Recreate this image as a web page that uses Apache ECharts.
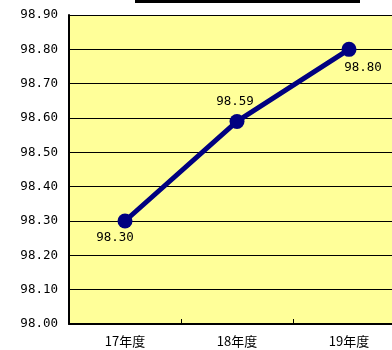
<!DOCTYPE html>
<html>
<head>
<meta charset="utf-8">
<script src="https://cdn.jsdelivr.net/npm/echarts@6/dist/echarts.min.js"></script>
<style>
  html, body { margin: 0; padding: 0; background: #ffffff; overflow: hidden; }
  /* The plot runs past the right edge of the window */
  #chart { width: 405px; height: 350px; }
</style>
</head>
<body>
<div id="chart"></div>
<script>
// Fiscal years and their rates (%)
const years = ['17年度', '18年度', '19年度'];
const rates = [98.30, 98.59, 98.80];
const yMin = 98.0;
const yMax = 98.9;
const yStep = 0.1;

// Per-point label placement
const labelPlacement = [
  { position: 'bottom', offset: [-10, -3] },
  { position: 'top', offset: [-2, 0] },
  { position: 'bottom', offset: [14, -2] }
];

const monoFont = '"DejaVu Sans Mono", monospace';
const catFont = '"Noto Sans CJK JP", "DejaVu Sans", sans-serif';

const chart = echarts.init(document.getElementById('chart'), null, { renderer: 'canvas' });

chart.setOption({
  backgroundColor: '#ffffff',
  animation: false,
  grid: {
    left: 69, top: 15, right: 0, bottom: 26,
    show: true, backgroundColor: '#FFFF99', borderWidth: 0,
    containLabel: false
  },
  graphic: [{
    type: 'rect',
    shape: { x: 135, y: 0, width: 225, height: 3 },
    style: { fill: '#000000' }
  }],
  xAxis: {
    type: 'category',
    data: years,
    boundaryGap: true,
    axisLine: { show: true, lineStyle: { color: '#000000', width: 2 } },
    axisTick: { show: true, inside: true, length: 5, lineStyle: { color: '#000000', width: 1 } },
    axisLabel: { color: '#000000', fontSize: 13, fontFamily: catFont, margin: 11 },
    splitLine: { show: false }
  },
  yAxis: {
    type: 'value',
    min: yMin, max: yMax, interval: yStep,
    axisLine: { show: true, lineStyle: { color: '#000000', width: 2 } },
    axisTick: { show: false },
    axisLabel: {
      color: '#000000', fontSize: 12.5, fontFamily: monoFont, margin: 11,
      formatter: v => v.toFixed(2)
    },
    splitLine: { show: true, lineStyle: { color: '#000000', width: 1 } }
  },
  series: [{
    type: 'line',
    data: rates.map((v, i) => ({
      value: v,
      label: {
        show: true,
        position: labelPlacement[i].position,
        offset: labelPlacement[i].offset,
        distance: 6,
        formatter: p => p.value.toFixed(2),
        color: '#000000', fontSize: 12.5, fontFamily: monoFont
      }
    })),
    symbol: 'circle',
    symbolSize: 15,
    itemStyle: { color: '#000080' },
    lineStyle: { color: '#000080', width: 5 },
    z: 5
  }]
});
</script>
</body>
</html>
